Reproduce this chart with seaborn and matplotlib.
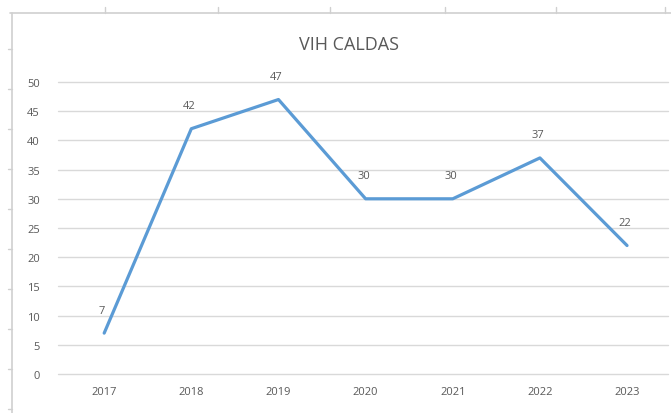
import matplotlib
matplotlib.use("Agg")
import matplotlib.pyplot as plt
import seaborn as sns
from matplotlib.lines import Line2D

years = ["2017", "2018", "2019", "2020", "2021", "2022", "2023"]
cases = [7, 42, 47, 30, 30, 37, 22]
y_ticks = [0, 5, 10, 15, 20, 25, 30, 35, 40, 45, 50]
title = "VIH CALDAS"

sns.set_theme(style="white")
plt.rcParams['font.family'] = ['Open Sans', 'DejaVu Sans']

fig = plt.figure(figsize=(6.71, 4.14), dpi=100)
ax = fig.add_axes([58/671, 1 - 375/414, (668-58)/671, (375-83)/414])

sns.lineplot(x=years, y=cases, ax=ax, color="#5B9BD5", linewidth=2.3, sort=False)

ax.set_xlim(-0.53, 6.47)
ax.set_ylim(0, 50)
ax.set_yticks(y_ticks)
ax.yaxis.grid(True, color="#D9D9D9", linewidth=1)
for gl in ax.get_ygridlines():
    gl.set_clip_on(False)
ax.set_axisbelow(True)
for s in ax.spines.values():
    s.set_visible(False)
ax.tick_params(axis="y", length=0, pad=13, labelsize=8, labelcolor="#595959")
ax.tick_params(axis="x", length=0, pad=9, labelsize=8, labelcolor="#595959")
ax.set_xlabel("")
ax.set_ylabel("")

for i, v in enumerate(cases):
    ax.annotate(str(v), (i, v), xytext=(-2, 23), textcoords="offset pixels",
                ha="center", va="center", fontsize=8, color="#595959")

fig.text(349/671, 1 - 45/414, title, ha="center", va="center", fontsize=13, color="#595959")

# spreadsheet frame lines
fig.add_artist(Line2D([10/671, 1], [1 - 14/414, 1 - 14/414], color="#D0D0D0", linewidth=1.2, transform=fig.transFigure))
fig.add_artist(Line2D([12/671, 12/671], [0, 1 - 14/414], color="#D0D0D0", linewidth=1.2, transform=fig.transFigure))
for xp in [105, 218, 330, 445, 556, 665]:
    fig.add_artist(Line2D([xp/671, xp/671], [1 - 14/414, 1 - 8/414], color="#D0D0D0", linewidth=1, transform=fig.transFigure))
for yp in [50, 90, 130, 170, 210, 250, 290, 330, 370, 410]:
    fig.add_artist(Line2D([8/671, 12/671], [1 - yp/414, 1 - yp/414], color="#D0D0D0", linewidth=1, transform=fig.transFigure))

fig.savefig("out.png", dpi=100)
